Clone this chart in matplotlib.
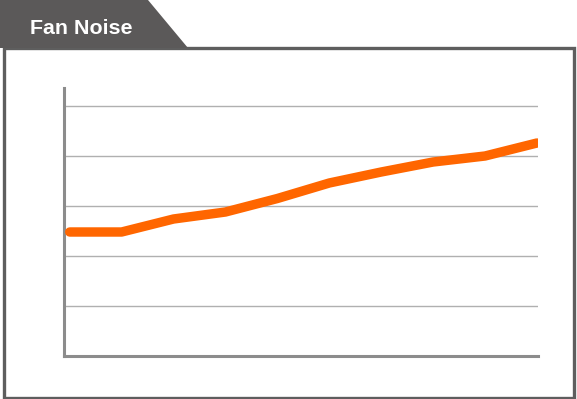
import matplotlib
matplotlib.use("Agg")
import matplotlib.pyplot as plt
from matplotlib.patches import Polygon, Rectangle

W, H = 577, 399

# data (gridline units, no labels shown)
x_idx = [0, 1, 2, 3, 4, 5, 6, 7, 8, 9]
noise = [2.48, 2.48, 2.74, 2.88, 3.15, 3.46, 3.68, 3.88, 4.0, 4.26]
grid_levels = [1, 2, 3, 4, 5]
title = "Fan Noise"


def fx(px):
    return px / W


def fy(py):
    return 1 - py / H


fig = plt.figure(figsize=(W / 100, H / 100), dpi=100)
fig.patch.set_facecolor("white")

# outer frame
fig.patches.append(Rectangle((fx(3.5), fy(397.5)), fx(570), (397.5 - 48) / H,
                             transform=fig.transFigure, fill=False,
                             edgecolor="#5e5e5e", linewidth=2.4))
# title tab
fig.patches.append(Polygon([(fx(0), fy(0)), (fx(148), fy(0)), (fx(188), fy(48)), (fx(0), fy(48))],
                           closed=True, transform=fig.transFigure,
                           facecolor="#5b5959", edgecolor="none"))
fig.text(fx(29.5), fy(34), title, color="white", fontsize=15.4, fontweight="bold",
         family="Liberation Sans", va="baseline", ha="left")

ax = fig.add_axes([fx(64), fy(356), fx(538) - fx(64), (356 - 88) / H])
ax.set_xlim(-0.11, 9.02)
ax.set_ylim(0, 5.36)

for g in grid_levels:
    ax.axhline(g, color="#b0b0b0", linewidth=1.0, zorder=1)

ax.plot(x_idx, noise, color="#ff6600", linewidth=6.8, solid_capstyle="round",
        solid_joinstyle="round", zorder=3)

for s in ["top", "right"]:
    ax.spines[s].set_visible(False)
ax.spines["left"].set_color("#8c8c8c")
ax.spines["bottom"].set_color("#8c8c8c")
ax.spines["left"].set_linewidth(2.2)
ax.spines["bottom"].set_linewidth(2.2)
ax.set_xticks([])
ax.set_yticks([])
ax.set_facecolor("none")

plt.savefig("out.png", dpi=100)
